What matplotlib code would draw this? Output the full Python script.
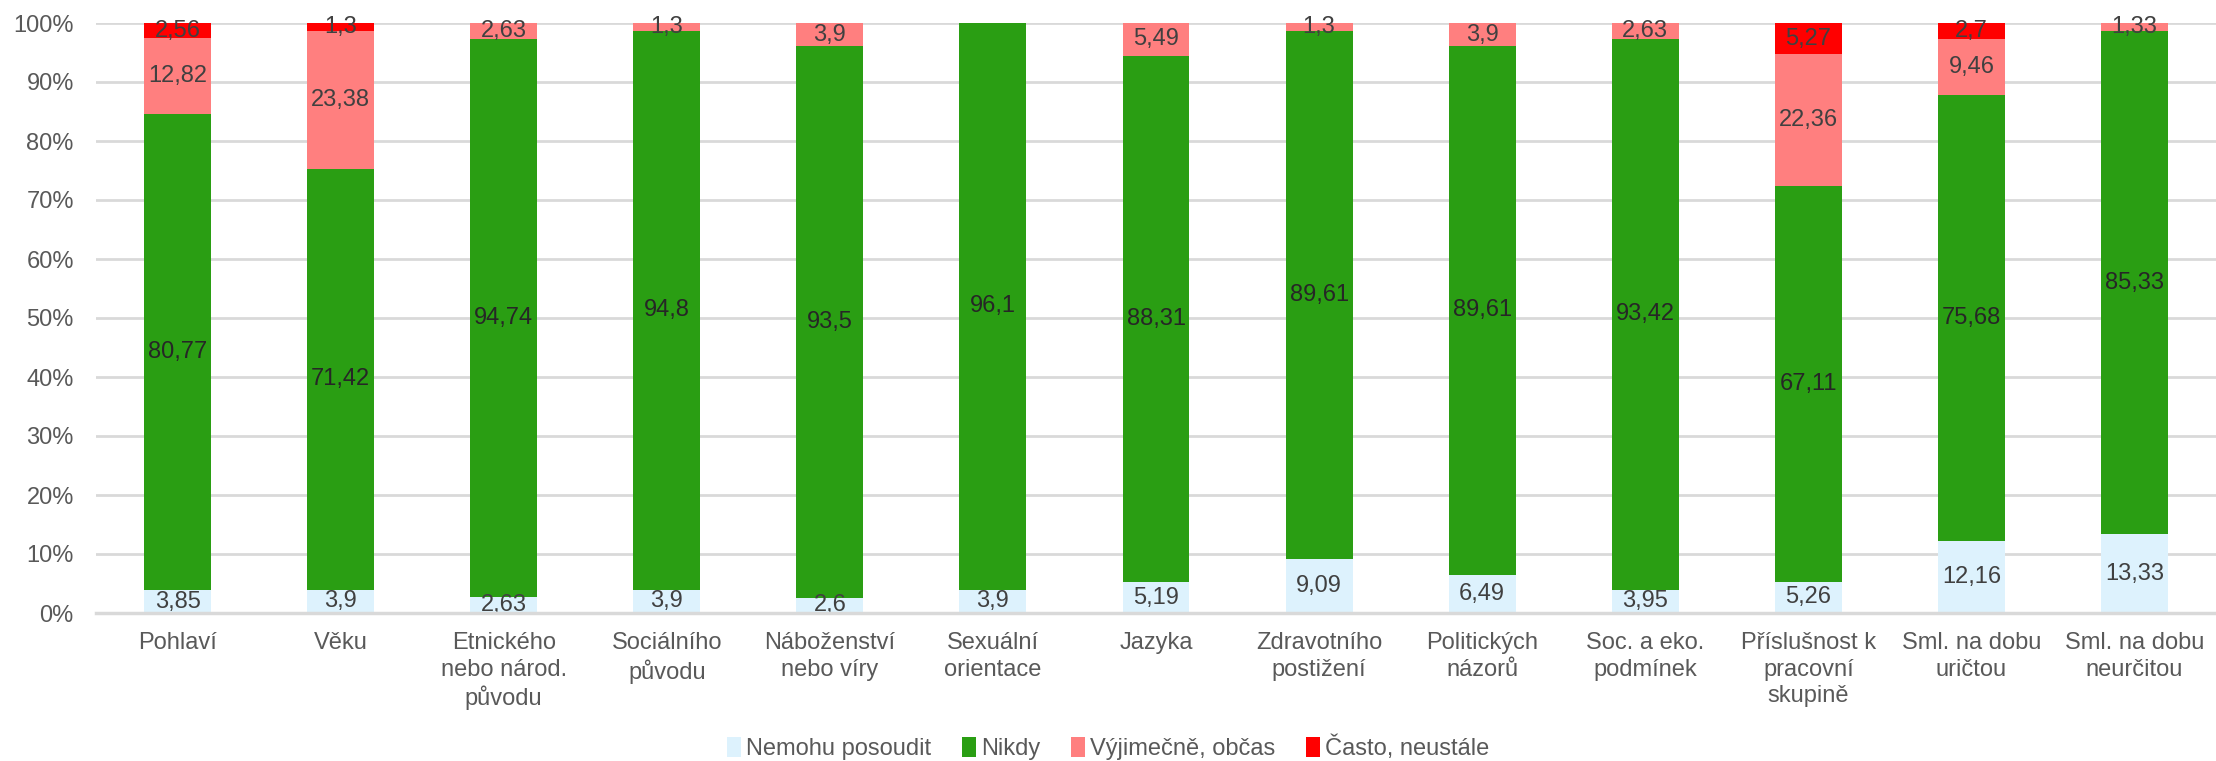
import matplotlib
matplotlib.use("Agg")
import matplotlib.pyplot as plt
import numpy as np
from matplotlib.patches import Patch

plt.rcParams['font.family'] = ['Liberation Sans', 'DejaVu Sans']

categories = ["Pohlaví", "Věku", "Etnického\nnebo národ.\npůvodu", "Sociálního\npůvodu",
              "Náboženství\nnebo víry", "Sexuální\norientace", "Jazyka", "Zdravotního\npostižení",
              "Politických\nnázorů", "Soc. a eko.\npodmínek", "Příslušnost k\npracovní\nskupině",
              "Sml. na dobu\nuričtou", "Sml. na dobu\nneurčitou"]
nemohu = [3.85, 3.9, 2.63, 3.9, 2.6, 3.9, 5.19, 9.09, 6.49, 3.95, 5.26, 12.16, 13.33]
nikdy = [80.77, 71.42, 94.74, 94.8, 93.5, 96.1, 88.31, 89.61, 89.61, 93.42, 67.11, 75.68, 85.33]
vyjimecne = [12.82, 23.38, 2.63, 1.3, 3.9, 0, 5.49, 1.3, 3.9, 2.63, 22.36, 9.46, 1.33]
casto = [2.56, 1.3, 0, 0, 0, 0, 0, 0, 0, 0, 5.27, 2.7, 0]
series_names = ["Nemohu posoudit", "Nikdy", "Výjimečně, občas", "Často, neustále"]
colors = ["#DDF2FD", "#2A9E13", "#FF7F7F", "#FF0000"]
ytick_vals = [0, 10, 20, 30, 40, 50, 60, 70, 80, 90, 100]

FS = 17
fig = plt.figure(figsize=(22.16, 7.61), dpi=100)
ax = fig.add_axes([96/2216, 1 - 613/761, 1 - 96/2216, (613 - 23)/761])

x = np.arange(len(categories))
width = 0.41
all_series = [nemohu, nikdy, vyjimecne, casto]
raw = np.array(all_series, dtype=float)
totals = raw.sum(axis=0)
share = raw / totals * 100  # 100% stacked columns
bottom = np.zeros(len(categories))
for name, vals, sh, col in zip(series_names, raw, share, colors):
    ax.bar(x, sh, width, bottom=bottom, color=col, label=name, zorder=3)
    for xi, b, v, h in zip(x, bottom, vals, sh):
        if v > 0:
            txt = ("%g" % v).replace('.', ',')
            ax.text(xi, b + h / 2, txt, ha='center', va='center', fontsize=FS,
                    color='#262626' if name == "Nikdy" else '#404040', zorder=4)
    bottom += sh

ax.set_xlim(-0.5, len(categories) - 0.5)
ax.set_ylim(0, 100)
ax.set_yticks(ytick_vals)
ax.set_yticklabels([f"{v}%" for v in ytick_vals])
ax.set_xticks(x)
ax.set_xticklabels(categories, linespacing=1.25)
ax.tick_params(axis='both', length=0, labelsize=FS, labelcolor='#595959')
ax.tick_params(axis='x', pad=14)
ax.tick_params(axis='y', pad=16)
ax.yaxis.grid(True, color='#D9D9D9', linewidth=2, zorder=0)
for s in ['top', 'right', 'left']:
    ax.spines[s].set_visible(False)
ax.spines['bottom'].set_color('#D9D9D9')
ax.spines['bottom'].set_linewidth(2.5)
ax.spines['bottom'].set_zorder(5)

handles = [Patch(facecolor=c, edgecolor='none') for c in colors]
fig.legend(handles, series_names, loc='center', bbox_to_anchor=(0.5, 1 - 748/761),
           ncol=4, frameon=False, fontsize=FS, labelcolor='#595959',
           handlelength=0.6, handleheight=0.9, handletextpad=0.2, columnspacing=1.3)

fig.savefig("out.png", dpi=100)
